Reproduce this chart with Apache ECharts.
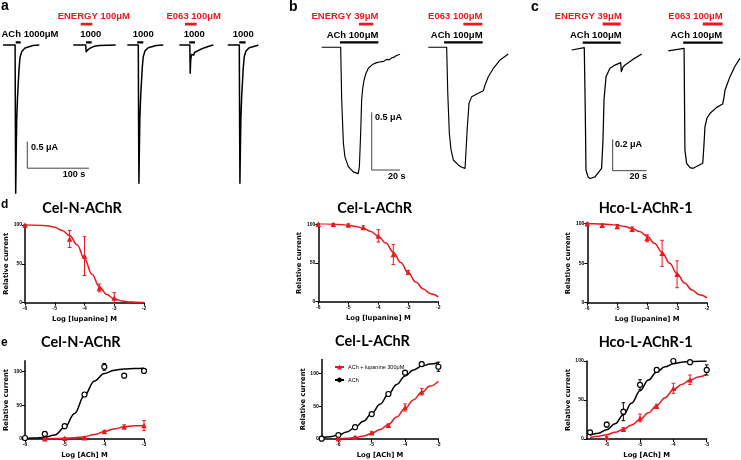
<!DOCTYPE html>
<html><head><meta charset="utf-8">
<script src="https://cdn.jsdelivr.net/npm/echarts@6/dist/echarts.min.js"></script>
<style>html,body{margin:0;padding:0;background:#fff}#c{width:741px;height:460px}</style>
</head><body><div id="c"></div><script>
// ---------------- DATA ----------------
// Panel a: current traces (time s, current µA)
const aTrace1 = [[0,0],[19.6,0],[20.1,-1.5],[20.6,-2.78],[21.4,-2.0],[22.2,-1.41],[23.5,-1.0],[24.8,-0.71],[26,-0.45],[27.6,-0.23],[30.5,-0.12],[35.7,-0.056],[48.6,-0.01],[58.9,0]];
const aTrace2 = [[114,0],[134.2,0],[134.8,-0.125],[136,-0.11],[138,-0.085],[142,-0.055],[148,-0.025],[156,-0.008],[182.7,0]];
const aTrace3 = [[201.6,0],[219.4,0],[219.9,-1.5],[220.4,-2.59],[221.2,-1.9],[222,-1.35],[223.3,-0.95],[224.6,-0.68],[225.8,-0.43],[227.4,-0.22],[230.3,-0.11],[235.5,-0.05],[248.4,-0.01],[260,0]];
const aTrace4 = [[286,0],[303,0],[303.3,-0.3],[303.6,-0.53],[304.2,-0.32],[305,-0.22],[306,-0.18],[307,-0.21],[308,-0.16],[309.3,-0.19],[310.5,-0.14],[313,-0.12],[319,-0.09],[327,-0.05],[335,-0.02],[341,0]];
const aTrace5 = [[364.4,0],[383.2,0],[383.7,-1.5],[384.2,-2.59],[385,-1.9],[385.8,-1.35],[387.1,-0.95],[388.4,-0.68],[389.6,-0.43],[391.2,-0.22],[394.1,-0.11],[399.3,-0.05],[412.2,-0.01],[414,0]];
const aAChBars = [[20.6,28.7],[134.6,143.8],[217.8,227.5],[302,311.3],[383.2,393.5]];
const aDrugBars = [[126,144.8],[295,314]];
const aAChLabels = ['ACh 1000μM','1000','1000','1000','1000'];
const aDrugLabels = ['ENERGY 100μM','E063 100μM'];
const aScale = {current:0.5, time:100, currentText:'0.5 μA', timeText:'100 s'};

// Panel b
const bTrace1 = [[1.2,0],[14.6,0],[15.3,-0.45],[16.5,-0.83],[17.6,-0.95],[20,-1.035],[23.5,-1.08],[27,-1.095],[27.8,-1.035],[28.7,-0.745],[29.4,-0.457],[30.2,-0.35],[31.1,-0.284],[32.5,-0.225],[34.1,-0.182],[37,-0.15],[40,-0.133],[43,-0.125],[45,-0.122],[47.1,-0.105],[49,-0.108],[50.5,-0.092],[52,-0.088],[54,-0.072],[56.5,-0.061]];
const bTrace2 = [[76.4,0],[89.4,0],[90.2,-0.4],[91.3,-0.745],[92.5,-0.89],[94.1,-0.977],[97.6,-1.02],[100,-1.04],[102.4,-1.05],[103.1,-0.89],[104,-0.69],[105.2,-0.486],[107.1,-0.428],[110.6,-0.405],[115.3,-0.376],[116.5,-0.327],[118.8,-0.255],[122.4,-0.182],[127.1,-0.11],[132.9,-0.058]];
const bAChBars = [[14.1,41.2],[87.5,114.8]];
const bDrugBars = [[27.5,37.6],[101.2,114.6]];
const bAChLabels = ['ACh 100μM','ACh 100μM'];
const bDrugLabels = ['ENERGY 39μM','E063 100μM'];
const bScale = {current:0.5, time:20, currentText:'0.5 μA', timeText:'20 s'};

// Panel c
const cTrace1 = [[1,0],[8.4,0.015],[9.0,-0.4],[9.4,-0.766],[10.6,-0.81],[11.8,-0.82],[14.7,-0.81],[18.6,-0.755],[19.4,-0.574],[20,-0.319],[21.2,-0.17],[23.5,-0.117],[26.5,-0.096],[29.8,-0.081],[30.2,-0.138],[31.2,-0.108],[32.4,-0.096],[37,-0.06],[42.2,-0.026]];
const cTrace2 = [[57.8,-0.006],[67.1,0.011],[67.6,-0.64],[68.6,-0.723],[70.6,-0.75],[72.4,-0.755],[78.1,-0.723],[78.8,-0.606],[79.4,-0.489],[80.6,-0.434],[82.4,-0.404],[86.3,-0.366],[89.8,-0.345],[90.6,-0.3],[91.2,-0.255],[94.1,-0.17],[97.1,-0.102],[100,-0.053]];
const cAChBars = [[7.5,29.8],[66.6,89.8]];
const cDrugBars = [[19.2,29.8],[78.1,89.8]];
const cAChLabels = ['ACh 100μM','ACh 100μM'];
const cDrugLabels = ['ENERGY 39μM','E063 100μM'];
const cScale = {current:0.2, time:20, currentText:'0.2 μA', timeText:'20 s'};

// Panel d: lupanine inhibition (log M, relative current %)
const dTitles = ['Cel-N-AChR','Cel-L-AChR','Hco-L-AChR-1'];
const d1X = [-6,-4.5,-4,-3.5,-3];
const d1Mean = [100,82,60,19,6];
const d1Err = [0,11,25,5,7];
const d23X = [-6,-5.5,-5,-4.5,-4,-3.5,-3];
const d2Mean = [100,100,99,96,85,61,38];
const d2Err = [1,1,1.5,2,8,13,2.5];
const d3Mean = [100,98,96.5,93,81.5,62.5,36];
const d3Err = [1,1.5,2.5,3,4.5,16.5,17];
const dFitX = [-6,-5.75,-5.5,-5.25,-5,-4.75,-4.5,-4.25,-4,-3.75,-3.5,-3.25,-3,-2.75,-2.5,-2.25,-2];
const d1Fit = [100,99.9,99.7,99,97,93,86.5,74.5,56.5,36.5,20.5,10.5,5,2.2,1,0.5,0.2];
const d2Fit = [100.8,100.6,100.3,99.7,98.8,97.3,94.9,90.8,84.6,75.7,64,50.5,37,25.4,16.4,10.2,6.2];
const d3Fit = [100,99.8,99.5,99,98,96.5,94,90,84,75,63.5,50,36.5,25,16,10,6.2];
const dXTicks = [-6,-5,-4,-3,-2];
const dYTicks = [0,50,100];

// Panel e: ACh concentration-response
const eTitles = ['Cel-N-AChR','Cel-L-AChR','Hco-L-AChR-1'];
const seriesNames = ['ACh + lupanine 300μM','ACh'];
const e1BlackX = [-6,-5.5,-5,-4.5,-4,-3.5,-3];
const e1BlackMean = [1.5,7.5,19,66,107,94,101];
const e1BlackErr = [1,2.5,1.5,3,5,1.5,1.5];
const e1RedX = [-5.5,-5,-4.5,-4,-3.5,-3];
const e1RedMean = [0.5,1,2,11,18,20];
const e1RedErr = [0.5,0.5,1,1.5,3,7.5];
const e1FitX = [-6,-5.75,-5.5,-5.25,-5,-4.75,-4.5,-4.25,-4,-3.75,-3.5,-3.25,-3];
const e1BlackFit = [1,1.5,2.5,6,17,38,65,86,97,102,104,104.5,105];
const e1RedFitX = [-5.5,-5.25,-5,-4.75,-4.5,-4.25,-4,-3.75,-3.5,-3.25,-3];
const e1RedFit = [0.5,0.7,1,2,3.5,6.5,11,15,18,19.5,20];

const e2BlackX = [-6.5,-6,-5.5,-5,-4.5,-4,-3.5,-3];
const e2BlackMean = [0.5,6,18,38,68.5,101,114,110];
const e2BlackErr = [0.5,1,1.5,2,2.5,2,3,7];
const e2RedX = [-6,-5.5,-5,-4.5,-4,-3.5];
const e2RedMean = [0.5,2.5,9.5,21,48,72];
const e2RedErr = [0.5,1,1.5,2,5.5,5];
const e23FitX = [-6.5,-6.25,-6,-5.75,-5.5,-5.25,-5,-4.75,-4.5,-4.25,-4,-3.75,-3.5,-3.25,-3];
const e2BlackFit = [2,3.5,6,10.5,17.5,27,39,53,68,83,96,105,111,114,116];
const e2RedFitX = [-6,-5.75,-5.5,-5.25,-5,-4.75,-4.5,-4.25,-4,-3.75,-3.5,-3.25,-3];
const e2RedFit = [0.5,1,2,4.5,8.5,14.5,22,33.5,46.5,59.5,71,80.5,88];

const e3BlackX = [-6.5,-6,-5.5,-5,-4.5,-4,-3.5,-3];
const e3BlackMean = [8.5,18.5,35,69.5,88.5,100,98.5,88.5];
const e3BlackErr = [2,3,11.5,6.5,2.5,1,1,6.5];
const e3RedX = [-6,-5.5,-5,-4.5,-4,-3.5];
const e3RedMean = [2,12.5,27,42,65,76];
const e3RedErr = [1,2,5,2.5,6.5,6];
const e3BlackFit = [5,7.5,12,19.5,31,46,62,75.5,86,92.5,96.5,98.5,99.3,99.7,99.9];
const e3RedFit = [2,3.5,5.5,8.5,12.5,18,25,33.5,43,53,63,70,75.5,79.5,83];
const eXTicks = [-6,-5,-4,-3];
const eYTicks = [0,50,100];

// ---------------- BUILD ----------------
const RED = '#e8191f';
const BLACK = '#000';
const grids = [], xAxes = [], yAxes = [], series = [], graphics = [];

function hiddenGrid(left, top, width, height, xmin, xmax, ymin, ymax) {
  const gi = grids.length;
  grids.push({left, top, width, height});
  xAxes.push({gridIndex:gi, type:'value', min:xmin, max:xmax, show:false});
  yAxes.push({gridIndex:gi, type:'value', min:ymin, max:ymax, show:false});
  return gi;
}
function traceSeries(gi, data, w) {
  series.push({type:'line', xAxisIndex:gi, yAxisIndex:gi, data, symbol:'none', silent:true, clip:false,
    lineStyle:{color:BLACK, width:w||1.4, join:'round'}, z:2});
}
function barSeries(gi, bars, level, color, w) {
  const data = [];
  bars.forEach(b => { data.push([b[0], level], [b[1], level], [b[1], '-']); });
  series.push({type:'line', xAxisIndex:gi, yAxisIndex:gi, data, symbol:'none', silent:true, clip:false,
    connectNulls:false, lineStyle:{color, width:w, cap:'butt'}, z:3});
}
function scaleSeries(gi, sc, corner) {
  const t0 = corner[0], i0 = corner[1];
  series.push({type:'line', xAxisIndex:gi, yAxisIndex:gi, symbol:'none', silent:true, clip:false,
    data:[[t0, i0 + sc.current],[t0, i0],[t0 + sc.time, i0]],
    lineStyle:{color:'#444', width:1}, z:2});
}
function txt(s, x, y, o) {
  graphics.push({type:'text', x, y, silent:true, style:Object.assign({text:s, fill:BLACK,
    font:'bold 9.5px "Liberation Sans", Arial, sans-serif', align:'center', verticalAlign:'middle'}, o || {})});
}

// ---- panel a ----
const gA = hiddenGrid(3, 5, 277.5, 200, 0, 450, -3, 0.75);
[aTrace1, aTrace2, aTrace3, aTrace4, aTrace5].forEach(t => traceSeries(gA, t, 1.5));
barSeries(gA, aAChBars, 0.05, BLACK, 2.2);
barSeries(gA, aDrugBars, 0.39, RED, 2.8);
scaleSeries(gA, aScale, [39.4, -2.31]);
// ---- panel b ----
const gB = hiddenGrid(320, 6.9, 212.5, 213.4, 0, 150, -1.5, 0.35);
[bTrace1, bTrace2].forEach(t => traceSeries(gB, t, 1.15));
barSeries(gB, bAChBars, 0.043, BLACK, 2.2);
barSeries(gB, bDrugBars, 0.2, RED, 2.8);
scaleSeries(gB, bScale, [36.5, -1.064]);
// ---- panel c ----
const gC = hiddenGrid(570, 3, 170, 203.7, 0, 100, -1, 0.3);
[cTrace1, cTrace2].forEach(t => traceSeries(gC, t, 1.25));
barSeries(gC, cAChBars, 0.047, BLACK, 2.2);
barSeries(gC, cDrugBars, 0.166, RED, 2.8);
scaleSeries(gC, cScale, [25.1, -0.77]);

// top texts
const smallRed = {fill:RED};
txt('a', 1, 6, {align:'left', font:'bold 14px "Liberation Sans", Arial'});
txt('b', 289, 7, {align:'left', font:'bold 14px "Liberation Sans", Arial'});
txt('c', 531, 7, {align:'left', font:'bold 14px "Liberation Sans", Arial'});
[[30,34.5],[90.7,34.5],[143.3,34.5],[194.3,34.5],[243.3,34.5]].forEach((p,i)=>txt(aAChLabels[i], p[0], p[1]));
[[93.8,16],[193.7,16]].forEach((p,i)=>txt(aDrugLabels[i], p[0], p[1], smallRed));
[[352.5,35],[456.7,35]].forEach((p,i)=>txt(bAChLabels[i], p[0], p[1]));
[[345,16],[455.3,16]].forEach((p,i)=>txt(bDrugLabels[i], p[0], p[1], smallRed));
[[595.8,35],[696.3,35]].forEach((p,i)=>txt(cAChLabels[i], p[0], p[1]));
[[588.3,16],[695.5,16]].forEach((p,i)=>txt(cDrugLabels[i], p[0], p[1], smallRed));
const scaleFont = {font:'bold 9px "Liberation Sans", Arial'};
txt(aScale.currentText, 31, 147.5, Object.assign({align:'left'}, scaleFont));
txt(aScale.timeText, 74, 175, scaleFont);
txt(bScale.currentText, 375, 117.5, Object.assign({align:'left'}, scaleFont));
txt(bScale.timeText, 396.7, 176.7, scaleFont);
txt(cScale.currentText, 615, 145, Object.assign({align:'left'}, scaleFont));
txt(cScale.timeText, 638.3, 176.7, scaleFont);

// ---- dose-response panels ----
const axisNameStyle = {fontSize:6.8, fontWeight:'bold', fontFamily:'"DejaVu Sans", sans-serif', color:BLACK};
const tickLabelStyle = {fontSize:5, fontWeight:'bold', fontFamily:'"Liberation Sans", Arial', color:BLACK};
function plotGrid(left, top, width, height, xmin, xmax, ymax, xName, xTicks, yTicks) {
  const gi = grids.length;
  grids.push({left, top, width, height});
  xAxes.push({gridIndex:gi, type:'value', min:xmin, max:xmax, name:xName, nameLocation:'middle', nameGap:13,
    nameTextStyle:axisNameStyle,
    axisLine:{show:true, onZero:false, lineStyle:{color:BLACK, width:1.5}},
    axisTick:{show:true, length:3, lineStyle:{color:BLACK, width:1}, customValues:xTicks},
    axisLabel:Object.assign({margin:3, customValues:xTicks}, tickLabelStyle),
    splitLine:{show:false}});
  yAxes.push({gridIndex:gi, type:'value', min:0, max:ymax, name:'Relative current', nameLocation:'middle', nameGap:15,
    nameTextStyle:axisNameStyle,
    axisLine:{show:true, onZero:false, lineStyle:{color:BLACK, width:1.5}},
    axisTick:{show:true, length:3, lineStyle:{color:BLACK, width:1}, customValues:yTicks},
    axisLabel:Object.assign({margin:3, customValues:yTicks}, tickLabelStyle),
    splitLine:{show:false}});
  return gi;
}
function fitSeries(gi, xs, ys, color, name, symbol) {
  series.push({type:'line', name, xAxisIndex:gi, yAxisIndex:gi, data:xs.map((x,i)=>[x, ys[i]]),
    smooth:0.4, smoothMonotone:'x', symbol:symbol || 'none', showSymbol:false, silent:true,
    itemStyle:{color, opacity:1}, lineStyle:{color, width:1.5}, z:2, emphasis:{disabled:true}});
}
function pointSeries(gi, xs, means, kind) {
  const isRed = kind === 'red';
  series.push({type:'scatter', xAxisIndex:gi, yAxisIndex:gi, data:xs.map((x,i)=>[x, means[i]]),
    symbol:isRed ? 'triangle' : 'circle', symbolSize:isRed ? 5.5 : 5, silent:true, clip:false,
    emphasis:{disabled:true},
    itemStyle:isRed ? {color:RED, opacity:1} : {color:'#fff', borderColor:BLACK, borderWidth:1.2, opacity:1}, z:5});
}
function errSeries(gi, xs, means, errs, color) {
  const data = xs.map((x,i)=>[x, means[i]-errs[i], means[i]+errs[i]]);
  series.push({type:'custom', xAxisIndex:gi, yAxisIndex:gi, data, encode:{x:0, y:[1,2]}, silent:true, clip:false, z:4,
    renderItem(params, api) {
      const x = api.value(0);
      const a = api.coord([x, api.value(1)]), b = api.coord([x, api.value(2)]);
      const w = 1.8, st = {stroke:color, lineWidth:1};
      return {type:'group', children:[
        {type:'line', shape:{x1:a[0], y1:a[1], x2:b[0], y2:b[1]}, style:st},
        {type:'line', shape:{x1:a[0]-w, y1:a[1], x2:a[0]+w, y2:a[1]}, style:st},
        {type:'line', shape:{x1:b[0]-w, y1:b[1], x2:b[0]+w, y2:b[1]}, style:st}]};
    }});
}

const xNameD = 'Log [lupanine] M', xNameE = 'Log [ACh] M';
const gD1 = plotGrid(25, 225, 119, 77.7, -6, -2, 100, xNameD, dXTicks, dYTicks);
const gD2 = plotGrid(318.3, 224.3, 120, 77.4, -6, -2, 100, xNameD, dXTicks, dYTicks);
const gD3 = plotGrid(587.3, 223.7, 119.7, 79, -6, -2, 100, xNameD, dXTicks, dYTicks);
fitSeries(gD1, dFitX, d1Fit, RED); errSeries(gD1, d1X, d1Mean, d1Err, RED); pointSeries(gD1, d1X, d1Mean, 'red');
fitSeries(gD2, dFitX, d2Fit, RED); errSeries(gD2, d23X, d2Mean, d2Err, RED); pointSeries(gD2, d23X, d2Mean, 'red');
fitSeries(gD3, dFitX, d3Fit, RED); errSeries(gD3, d23X, d3Mean, d3Err, RED); pointSeries(gD3, d23X, d3Mean, 'red');

const gE1 = plotGrid(25, 360.8, 119, 79.2, -6, -3, 116, xNameE, eXTicks, eYTicks);
const gE2 = plotGrid(321.7, 359.5, 116.7, 79.5, -6.5, -3, 121, xNameE, eXTicks, eYTicks);
const gE3 = plotGrid(586.7, 361, 120, 79.7, -6.6, -3, 100, xNameE, eXTicks, eYTicks);

fitSeries(gE1, e1FitX, e1BlackFit, BLACK); fitSeries(gE1, e1RedFitX, e1RedFit, RED);
errSeries(gE1, e1BlackX, e1BlackMean, e1BlackErr, BLACK); errSeries(gE1, e1RedX, e1RedMean, e1RedErr, RED);
pointSeries(gE1, e1BlackX, e1BlackMean, 'black'); pointSeries(gE1, e1RedX, e1RedMean, 'red');

fitSeries(gE2, e2RedFitX, e2RedFit, RED, seriesNames[0], 'triangle');
fitSeries(gE2, e23FitX, e2BlackFit, BLACK, seriesNames[1], 'circle');
errSeries(gE2, e2BlackX, e2BlackMean, e2BlackErr, BLACK); errSeries(gE2, e2RedX, e2RedMean, e2RedErr, RED);
pointSeries(gE2, e2BlackX, e2BlackMean, 'black'); pointSeries(gE2, e2RedX, e2RedMean, 'red');

fitSeries(gE3, e23FitX, e3BlackFit, BLACK); fitSeries(gE3, e23FitX, e3RedFit, RED);
errSeries(gE3, e3BlackX, e3BlackMean, e3BlackErr, BLACK); errSeries(gE3, e3RedX, e3RedMean, e3RedErr, RED);
pointSeries(gE3, e3BlackX, e3BlackMean, 'black'); pointSeries(gE3, e3RedX, e3RedMean, 'red');

// titles & panel letters
const titleFont = {font:'bold 14.5px Lato, "Liberation Sans", sans-serif'};
[[82,208],[374.7,208],[645.7,208]].forEach((p,i)=>txt(dTitles[i], p[0], p[1], titleFont));
[[80.8,342.7],[372.5,341],[645.7,342.7]].forEach((p,i)=>txt(eTitles[i], p[0], p[1], titleFont));
txt('d', 1, 204.5, {align:'left', font:'bold 12px "Liberation Sans", Arial'});
txt('e', 1, 342.5, {align:'left', font:'bold 12px "Liberation Sans", Arial'});

const option = {
  animation:false,
  backgroundColor:'#fff',
  grid:grids, xAxis:xAxes, yAxis:yAxes, series,
  legend:{left:329, top:359, orient:'vertical', itemWidth:9, itemHeight:6, itemGap:7, selectedMode:false,
    data:seriesNames, textStyle:{fontSize:5.5, fontFamily:'"Liberation Sans", Arial', color:BLACK, padding:[0,0,0,-1]}},
  graphic:graphics
};
const chart = echarts.init(document.getElementById('c'), null, {renderer:'canvas'});
chart.setOption(option);
</script></body></html>
